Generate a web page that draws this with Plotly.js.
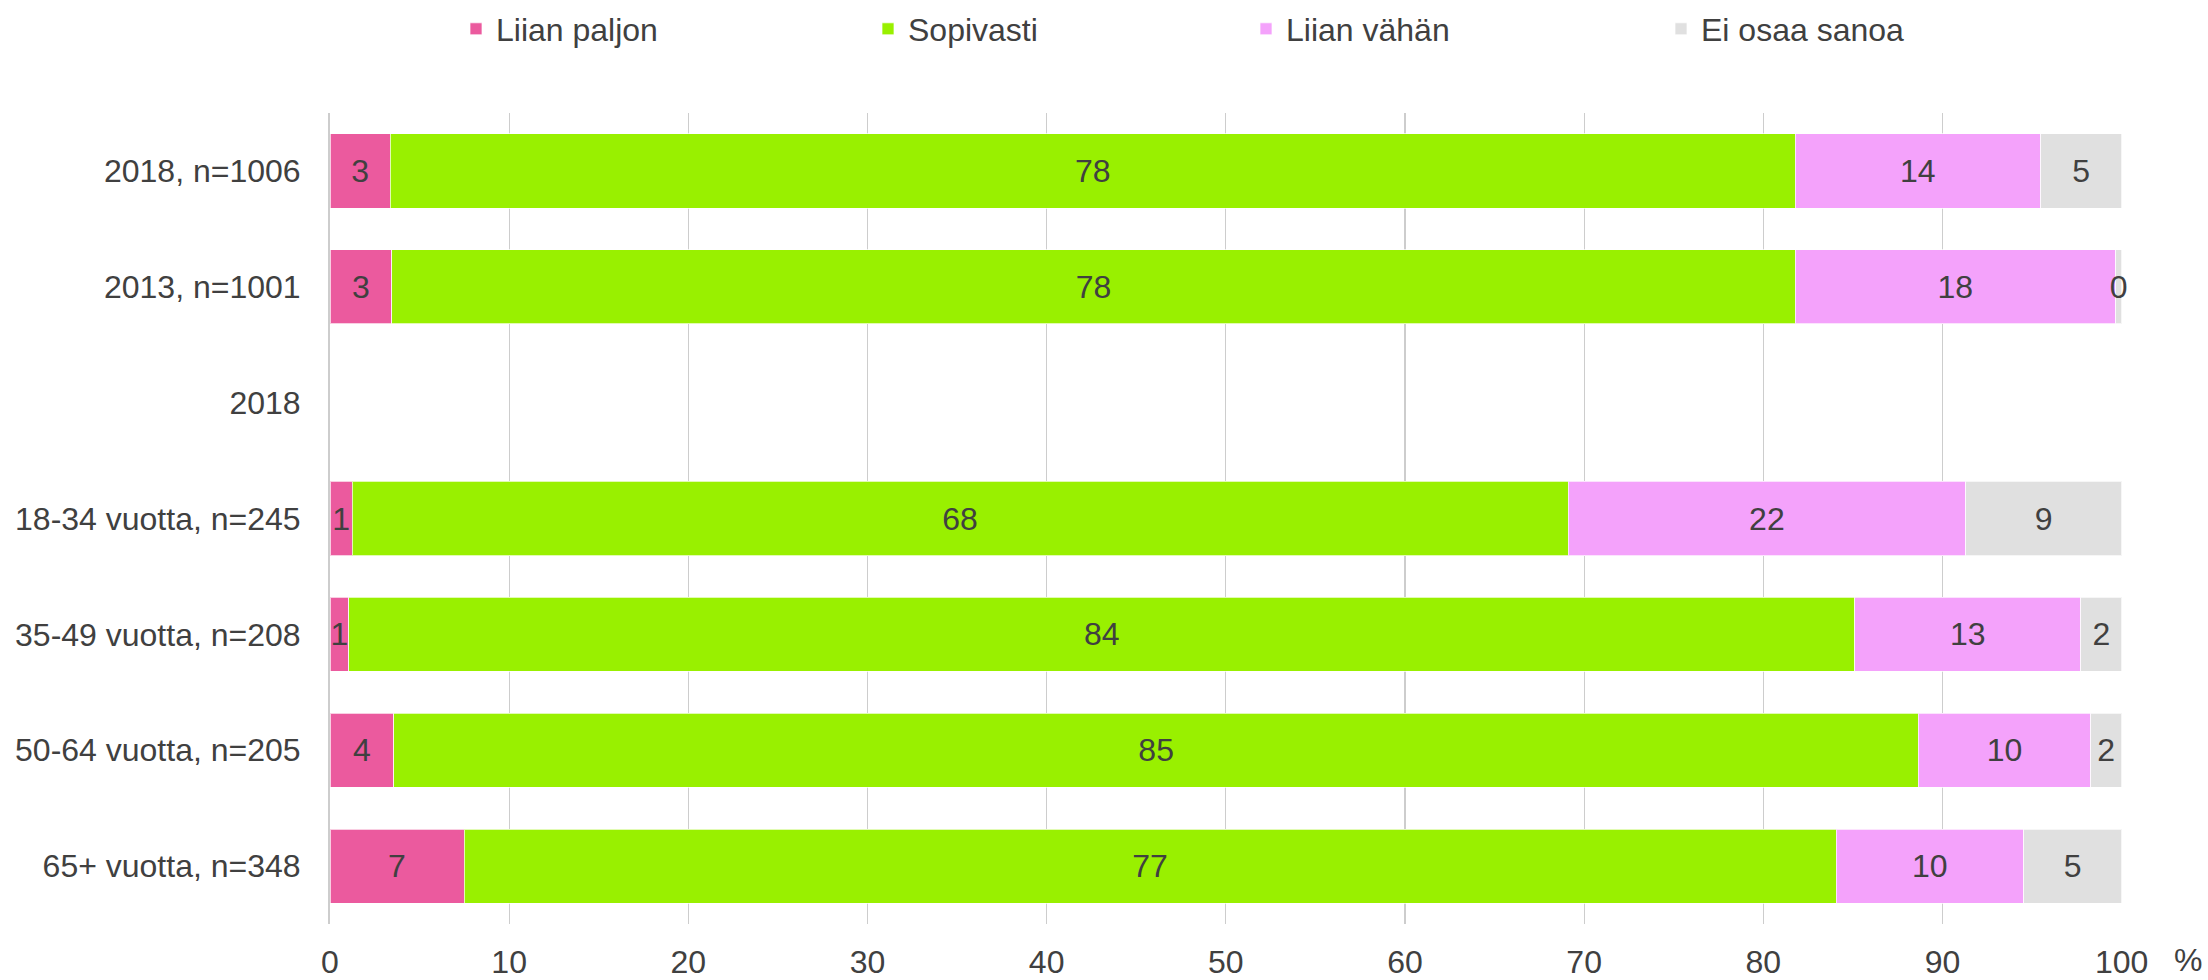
<!DOCTYPE html>
<html>
<head>
<meta charset="utf-8">
<script src="https://cdn.plot.ly/plotly-3.0.1.min.js"></script>
<style>html,body{margin:0;padding:0;background:#fff;}#chart{width:2208px;height:980px;}</style>
</head>
<body>
<div id="chart"></div>
<script>
const categories = ["2018, n=1006", "2013, n=1001", "2018", "18-34 vuotta, n=245", "35-49 vuotta, n=208", "50-64 vuotta, n=205", "65+ vuotta, n=348"];
const seriesNames = ["Liian paljon", "Sopivasti", "Liian vähän", "Ei osaa sanoa"];
const liianPaljon = [3.37, 3.46, null, 1.23, 1.06, 3.57, 7.48];
const sopivasti = [78.4, 78.31, null, 67.87, 84.04, 85.08, 76.58];
const liianVahan = [13.71, 17.89, null, 22.2, 12.63, 9.62, 10.47];
const eiOsaaSanoa = [4.52, 0.34, null, 8.7, 2.27, 1.73, 5.47];
const xTicks = [0, 10, 20, 30, 40, 50, 60, 70, 80, 90, 100];
const unitLabel = "%";

const colors = ["#EB5A9E", "#99F000", "#F4A2FB", "#E0E0E0"];
const seriesValues = [liianPaljon, sopivasti, liianVahan, eiOsaaSanoa];
const legendIds = ["legend", "legend2", "legend3", "legend4"];
const legendX = [456, 868, 1246, 1661];

const font = {family: "Liberation Sans, Arial, sans-serif", size: 32, color: "#404040"};

const traces = seriesValues.map((vals, i) => ({
  type: "bar",
  orientation: "h",
  name: seriesNames[i],
  y: categories,
  x: vals,
  marker: {color: colors[i], line: {color: "rgba(255,255,255,0.7)", width: 1}},
  texttemplate: "%{x:.0f}",
  textposition: "inside",
  insidetextanchor: "middle",
  constraintext: "none",
  insidetextfont: font,
  cliponaxis: false,
  hoverinfo: "x+name",
  legend: legendIds[i]
}));

const layout = {
  width: 2208,
  height: 980,
  paper_bgcolor: "#fff",
  plot_bgcolor: "#fff",
  font: font,
  barmode: "stack",
  bargap: 0.36,
  margin: {l: 330, r: 86, t: 113, b: 56},
  xaxis: {
    range: [0, 100.02],
    tickvals: xTicks,
    ticktext: xTicks.map(String),
    showgrid: true,
    gridcolor: "#CDCDCD",
    gridwidth: 1.3,
    zeroline: false,
    showline: false,
    ticks: "",
    ticklabelstandoff: 16,
    tickfont: font,
    fixedrange: true
  },
  yaxis: {
    type: "category",
    categoryorder: "array",
    categoryarray: categories,
    autorange: "reversed",
    showgrid: false,
    zeroline: false,
    showline: true,
    linecolor: "#CDCDCD",
    linewidth: 2,
    ticks: "",
    ticklabelstandoff: 21,
    tickfont: font,
    fixedrange: true
  },
  annotations: [{
    text: unitLabel,
    xref: "paper", yref: "paper",
    x: 1, y: 0,
    xanchor: "center", yanchor: "middle",
    xshift: 66, yshift: -36,
    showarrow: false,
    font: font
  }],
  showlegend: true
};
legendIds.forEach((id, i) => {
  layout[id] = {
    xref: "container", yref: "container",
    x: legendX[i] / 2208, y: 1 - 29 / 980,
    xanchor: "left", yanchor: "middle",
    orientation: "h",
    bgcolor: "rgba(0,0,0,0)",
    borderwidth: 0,
    font: font,
    itemclick: false, itemdoubleclick: false
  };
});

Plotly.newPlot("chart", traces, layout, {displayModeBar: false, staticPlot: true});
</script>
</body>
</html>
